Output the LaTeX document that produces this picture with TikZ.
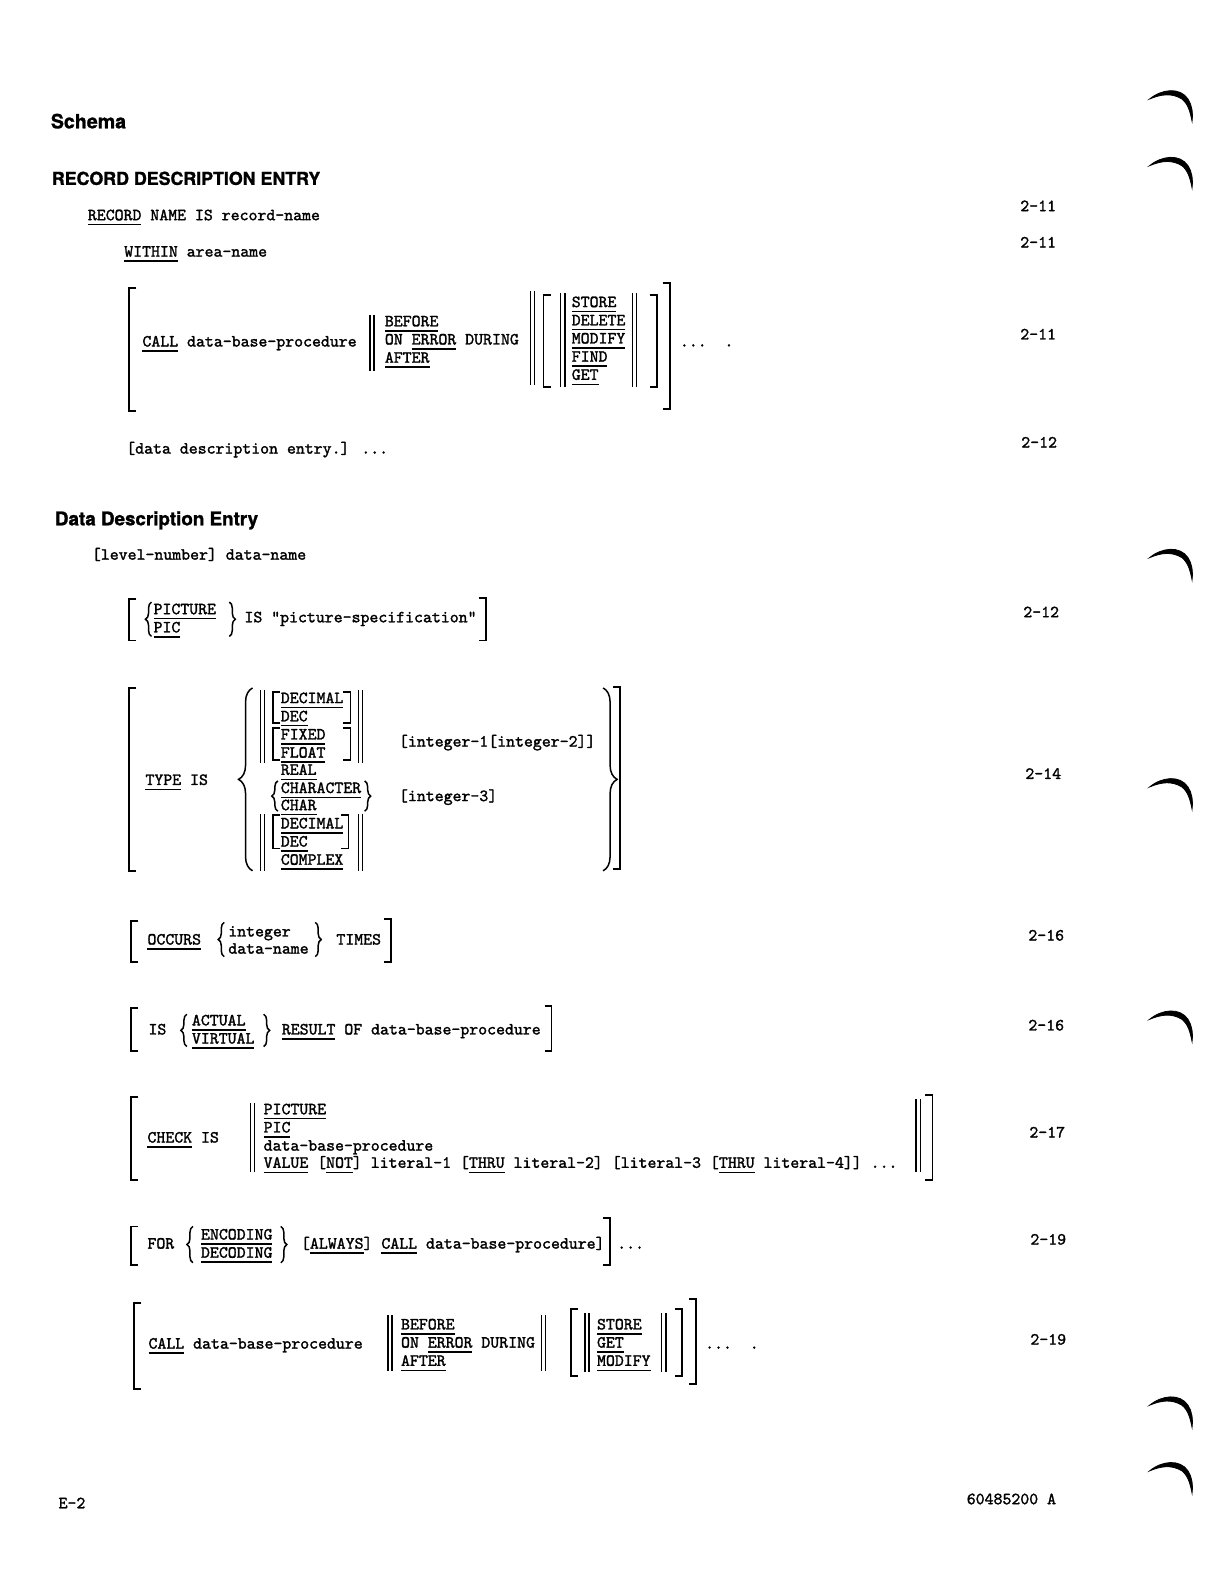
\documentclass[tikz,border=0pt]{standalone}
\usepackage{fontspec}
\newfontfamily\cbheadfont{TeX Gyre Heros}[BoldFeatures={FakeBold=1.3}]
\newfontfamily\cbmono{lmmono10-regular.otf}[FakeBold=1.6]
\usetikzlibrary{decorations.pathreplacing}
\newsavebox\kwbox
\newcommand\kw[1]{\sbox\kwbox{#1}\rlap{\rule[-2.6pt]{\wd\kwbox}{0.75pt}}\usebox\kwbox}
\newcommand\cbtt{\cbmono\fontsize{8.5}{9}\selectfont}
\newcommand\cbhd{\cbheadfont\bfseries\fontsize{8.9}{10}\selectfont}
\tikzset{
  cb page/.style={x=0.505pt, y=-0.505pt, line cap=butt, line join=miter},
  cb text/.style={font=\cbtt, anchor=base west, inner sep=0pt, outer sep=0pt},
  cb head/.style={font=\cbhd, anchor=base west, inner sep=0pt},
  cb ref/.style={cb text},
  cb rule/.style={line width=0.9pt},
  cb bar/.style={line width=0.8pt},
  cb brace/.style={line width=0.75pt, decorate, decoration={brace, amplitude=#1}},
  cb mark/.style={line width=0.4pt, fill=black}
}
\begin{document}
\begin{tikzpicture}[cb page]
\fill[white] (0,0) rectangle (1208,1568);
\useasboundingbox (0,0) rectangle (1208,1568);
% headings
\node[cb head, font=\cbhd\fontsize{9.8}{10}\selectfont] (schema) at (50,127) {Schema};
\node[cb head] (recdesc) at (51,183) {RECORD DESCRIPTION ENTRY};
\node[cb head, font=\cbhd\fontsize{9.4}{10}\selectfont] (ddhead) at (54,520) {Data Description Entry};
% record entry
\node[cb text] (recname) at (87,218) {\kw{RECORD} NAME IS record-name};
\node[cb text] (within) at (123,254) {\kw{WITHIN} area-name};
\node[cb text] (callA) at (141,343) {\kw{CALL} data-base-procedure};
\foreach \y/\w [count=\i] in {323/\kw{BEFORE},341/ON \kw{ERROR} DURING,359/\kw{AFTER}}
  \node[cb text] (whenA\i) at (381,\y) {\w};
\foreach \y/\w [count=\i] in {304/STORE,322/DELETE,340/MODIFY,358/FIND,376/GET}
  \node[cb text] (verbA\i) at (566,\y) {\kw{\w}};
\node[cb text] (dotsA) at (673,343) {...~~.};
\node[cb text] (ddentry) at (125,449) {[data description entry.] ...};
% data description entry
\node[cb text] (levelnum) at (91,554) {[level-number] data-name};
\node[cb text] (picA) at (152,608) {\kw{PICTURE}};
\node[cb text] (picB) at (152,626) {\kw{PIC}};
\node[cb text] (picspec) at (242,616) {IS "picture-specification"};
\node[cb text] (typeis) at (144,777) {\kw{TYPE} IS};
\foreach \y/\w [count=\i] in {696/DECIMAL,714/DEC,732/FIXED,750/FLOAT,767/REAL,785/CHARACTER,802/CHAR,820/DECIMAL,838/DEC,856/COMPLEX}
  \node[cb text] (type\i) at (278,\y) {\kw{\w}};
\node[cb text] (intA) at (395,739) {[integer-1[integer-2]]};
\node[cb text] (intB) at (395,793) {[integer-3]};
\node[cb text] (occurs) at (146,935) {\kw{OCCURS}};
\node[cb text] (occA) at (226,927) {integer};
\node[cb text] (occB) at (226,944) {data-name};
\node[cb text] (times) at (333,935) {TIMES};
\node[cb text] (isres) at (147,1024) {IS};
\node[cb text] (actual) at (190,1015) {\kw{ACTUAL}};
\node[cb text] (virtual) at (190,1033) {\kw{VIRTUAL}};
\node[cb text] (result) at (279,1024) {\kw{RESULT} OF data-base-procedure};
\node[cb text] (checkis) at (146,1131) {\kw{CHECK} IS};
\node[cb text] (chkA) at (261,1103) {\kw{PICTURE}};
\node[cb text] (chkB) at (261,1121) {\kw{PIC}};
\node[cb text] (chkC) at (261,1139) {data-base-procedure};
\node[cb text] (chkD) at (261,1156) {\kw{VALUE} [\kw{NOT}] literal-1 [\kw{THRU} literal-2] [literal-3 [\kw{THRU} literal-4]] ...};
\node[cb text] (for) at (146,1236) {FOR};
\node[cb text] (encA) at (199,1227) {\kw{ENCODING}};
\node[cb text] (encB) at (199,1245) {\kw{DECODING}};
\node[cb text] (always) at (298,1236) {[\kw{ALWAYS}] \kw{CALL} data-base-procedure]};
\node[cb text] (dotsG) at (611,1236) {...};
\node[cb text] (callH) at (147,1335) {\kw{CALL} data-base-procedure};
\foreach \y/\w [count=\i] in {1316/\kw{BEFORE},1334/ON \kw{ERROR} DURING,1352/\kw{AFTER}}
  \node[cb text] (whenH\i) at (397,\y) {\w};
\foreach \y/\w [count=\i] in {1316/STORE,1334/GET,1352/MODIFY}
  \node[cb text] (verbH\i) at (591,\y) {\kw{\w}};
\node[cb text] (dotsH) at (698,1335) {...~~.};
% page references
\foreach \x/\y/\r [count=\i] in {1010/209/2-11,1010/245/2-11,1010/336/2-11,1011/443/2-12,1013/611/2-12,1015/771/2-14,1018/931/2-16,1018/1020/2-16,1019/1126/2-17,1020/1232/2-19,1020/1331/2-19}
  \node[cb ref] (ref\i) at (\x,\y) {\r};
\node[cb text] (pageno) at (58,1493) {E-2};
\node[cb text] (docno) at (957,1489) {60485200 A};
% brackets
\foreach \x/\t/\b in {128/285/407,538/292/383,128/593/634,128/681/862,270/685/716,270/721/752,270/807/840,130/912/952,130/998/1040,130/1086/1168,130/1214/1252,133/1290/1375,565/1296/1362}
  \draw[cb rule] (\x+7,\t) -- (\x,\t) -- (\x,\b) -- (\x+7,\b);
\foreach \x/\t/\b in {663/280/405,650/292/383,481/592/634,614/680/860,347/685/716,347/721/752,345/807/840,387/910/952,546/996/1040,923/1084/1168,604/1206/1252,675/1296/1362,689/1286/1370}
  \draw[cb rule] (\x-7,\t) -- (\x,\t) -- (\x,\b) -- (\x-7,\b);
% double bars
\foreach \x/\t/\b in {366/312/367,525/288/381,555/290/383,626/290/383,258/683/755,355/683/755,258/806/862,355/806/862,248/1092/1160,907/1088/1160,384/1302/1357,536/1302/1357,579/1300/1358,655/1300/1358}{
  \draw[cb bar] (\x,\t) -- (\x,\b);
  \draw[cb bar] (\x+4,\t) -- (\x+4,\b);
}
% braces
\foreach \x/\t/\b in {150/596/630,275/773/803,222/913/947,185/1004/1036,191/1214/1250}
  \draw[cb brace=3pt] (\x,\b) -- (\x,\t);
\foreach \x/\t/\b in {227/596/630,361/773/803,312/913/947,261/1004/1036,278/1214/1250}
  \draw[cb brace=3pt] (\x,\t) -- (\x,\b);
\draw[cb brace=7pt] (250,862) -- (250,681);
\draw[cb brace=7pt] (597,681) -- (597,862);
% edge marks of the scan
\foreach \y in {88,154,542,769,999,1381,1446}
  \filldraw[cb mark] (1138,\y+10) .. controls (1150,\y) and (1168,\y-2) .. (1176,\y+10)
    .. controls (1180,\y+16) and (1181,\y+24) .. (1180,\y+32)
    .. controls (1178,\y+22) and (1176,\y+15) .. (1170,\y+10)
    .. controls (1160,\y+4) and (1150,\y+5) .. cycle;
\end{tikzpicture}
\end{document}
